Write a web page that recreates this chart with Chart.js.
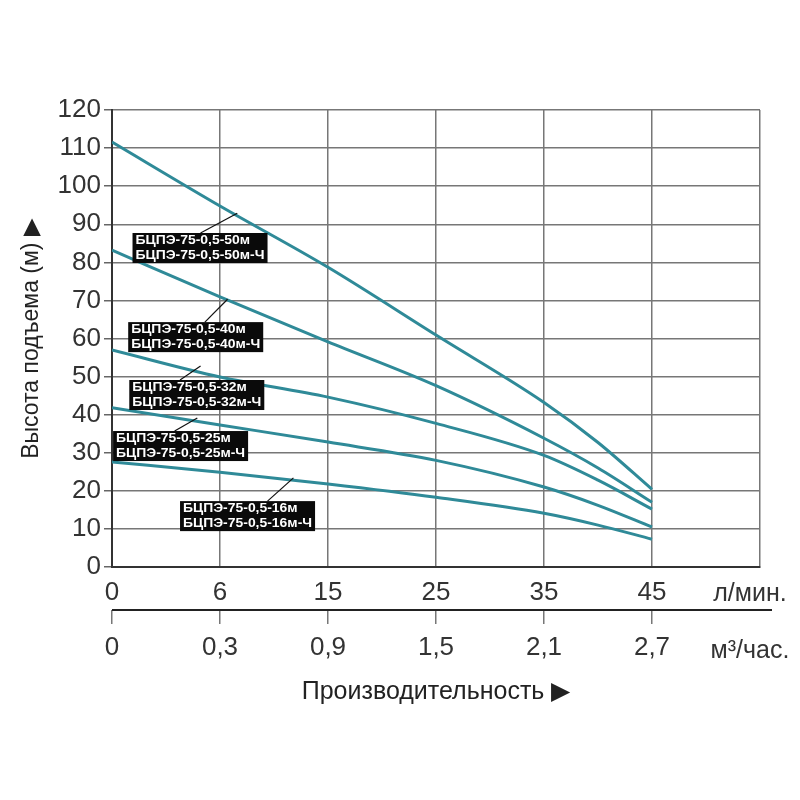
<!DOCTYPE html>
<html>
<head>
<meta charset="utf-8">
<script src="https://cdn.jsdelivr.net/npm/chart.js@4/dist/chart.umd.min.js"></script>
<style>
  html, body { margin: 0; padding: 0; background: #fff; }
  #wrap { width: 800px; height: 800px; }
</style>
</head>
<body>
<div id="wrap"><canvas id="pumpChart" width="800" height="800"></canvas></div>
<script>
// column positions on the x axis (0..6), labels per column
const flowLpm = ['0', '6', '15', '25', '35', '45', ''];
const flowM3h = ['0', '0,3', '0,9', '1,5', '2,1', '2,7', ''];
const pointX = [0, 1, 2, 3, 4, 4.5, 5];

// head (m) per model
const head50 = [111.6, 94.8, 78.7, 60.9, 43.2, 32.7, 20.4];
const head40 = [83.2, 70.9, 59.1, 47.6, 33.8, 26.0, 17.0];
const head32 = [57.0, 49.9, 44.6, 37.7, 29.3, 22.8, 15.2];
const head25 = [41.8, 37.3, 32.8, 28.0, 21.0, 16.2, 10.5];
const head16 = [27.6, 24.9, 21.8, 18.3, 14.1, 11.0, 7.3];

const modelNames = [
  ['БЦПЭ-75-0,5-50м', 'БЦПЭ-75-0,5-50м-Ч'],
  ['БЦПЭ-75-0,5-40м', 'БЦПЭ-75-0,5-40м-Ч'],
  ['БЦПЭ-75-0,5-32м', 'БЦПЭ-75-0,5-32м-Ч'],
  ['БЦПЭ-75-0,5-25м', 'БЦПЭ-75-0,5-25м-Ч'],
  ['БЦПЭ-75-0,5-16м', 'БЦПЭ-75-0,5-16м-Ч']
];

// where the black name boxes sit (in axis units) and where their leader lines touch the curve
const tagPlace = [
  { bx: 0.19, by: 87.7, lx: 0.82, tx: 1.16, ty: 92.9 },
  { bx: 0.15, by: 64.3, lx: 0.86, tx: 1.07, ty: 70.3 },
  { bx: 0.16, by: 49.1, lx: 0.63, tx: 0.82, ty: 52.8 },
  { bx: 0.01, by: 35.7, lx: 0.58, tx: 0.79, ty: 39.1 },
  { bx: 0.63, by: 17.3, lx: 1.44, tx: 1.68, ty: 23.4 }
];

const FONT = "'Liberation Sans', Arial, sans-serif";
const curveColor = '#2f8a98';

function toPoints(ys) {
  return ys.map((y, i) => ({ x: pointX[i], y: y }));
}

const heads = [head50, head40, head32, head25, head16];

const tagPlugin = {
  id: 'tags',
  afterDatasetsDraw(chart) {
    const ctx = chart.ctx;
    const xs = chart.scales.x, ys = chart.scales.y;
    ctx.save();
    tagPlace.forEach((p, i) => {
      const bx = xs.getPixelForValue(p.bx), by = ys.getPixelForValue(p.by);
      // leader line
      ctx.strokeStyle = '#111';
      ctx.lineWidth = 1.2;
      ctx.beginPath();
      ctx.moveTo(xs.getPixelForValue(p.lx), by);
      ctx.lineTo(xs.getPixelForValue(p.tx), ys.getPixelForValue(p.ty));
      ctx.stroke();
      // box with two lines of text
      ctx.font = 'bold 12px ' + FONT;
      const sx = 1.16;
      const w = ctx.measureText(modelNames[i][1]).width * sx + 6;
      ctx.fillStyle = '#0a0a0a';
      ctx.fillRect(bx, by, w, 30);
      ctx.fillStyle = '#fff';
      ctx.textBaseline = 'middle';
      modelNames[i].forEach((t, k) => {
        ctx.save();
        ctx.translate(bx + 3, by + 8 + k * 14.5);
        ctx.scale(sx, 1);
        ctx.fillText(t, 0, 0);
        ctx.restore();
      });
    });
    ctx.restore();
  },
  afterDraw(chart) {
    const ctx = chart.ctx;
    const xs = chart.scales.x, x2 = chart.scales.x2;
    ctx.save();
    // lower axis line runs a bit past the plot
    ctx.strokeStyle = '#222';
    ctx.lineWidth = 2;
    ctx.beginPath();
    ctx.moveTo(x2.left, x2.top);
    ctx.lineTo(x2.right + 12, x2.top);
    ctx.stroke();
    // unit labels
    ctx.fillStyle = '#333';
    ctx.textAlign = 'center';
    ctx.textBaseline = 'middle';
    ctx.font = '25px ' + FONT;
    const ux = xs.getPixelForValue(6) - 10;
    ctx.fillText('л/мин.', ux, xs.top + 27);
    ctx.fillText('м³/час.', ux, x2.top + 41);
    ctx.restore();
  }
};

new Chart(document.getElementById('pumpChart'), {
  type: 'line',
  data: {
    datasets: heads.map((h, i) => ({
      label: modelNames[i][0],
      data: toPoints(h),
      borderColor: curveColor,
      borderWidth: 3,
      pointRadius: 0,
      fill: false,
      cubicInterpolationMode: 'monotone'
    }))
  },
  options: {
    responsive: false,
    animation: false,
    layout: { padding: { left: 18, right: 40, top: 110, bottom: 93 } },
    plugins: {
      legend: { display: false },
      tooltip: { enabled: false }
    },
    scales: {
      x: {
        type: 'linear',
        position: 'bottom',
        min: 0,
        max: 6,
        afterFit: s => { s.height = 43; },
        ticks: {
          stepSize: 1,
          padding: 10,
          color: '#333',
          font: { size: 26, family: FONT },
          callback: v => flowLpm[v]
        },
        grid: { color: '#777', lineWidth: 1.5, drawTicks: false },
        border: { color: '#333', width: 2 }
      },
      x2: {
        type: 'linear',
        position: 'bottom',
        min: 0,
        max: 6,
        afterFit: s => { s.height = 97; },
        ticks: {
          stepSize: 1,
          padding: 8,
          color: '#333',
          font: { size: 26, family: FONT },
          callback: v => flowM3h[v]
        },
        grid: {
          drawOnChartArea: false,
          tickLength: 14,
          lineWidth: 1.5,
          tickColor: c => (c.tick && c.tick.value === 6 ? 'rgba(0,0,0,0)' : '#777')
        },
        border: { display: false },
        title: {
          display: true,
          text: 'Производительность ▶',
          color: '#222',
          font: { size: 25, family: FONT },
          padding: { top: 6, bottom: 0 }
        }
      },
      y: {
        min: 0,
        max: 120,
        afterFit: s => { s.width = 94; },
        ticks: {
          stepSize: 5,
          padding: 3,
          color: '#333',
          font: { size: 26, family: FONT },
          callback: v => (v % 10 === 0 ? v : '')
        },
        grid: {
          lineWidth: 1.5,
          tickLength: 8,
          color: c => (c.tick && c.tick.value % 10 === 0 ? '#777' : 'rgba(0,0,0,0)'),
          tickColor: '#666'
        },
        border: { color: '#333', width: 2 },
        title: {
          display: true,
          text: 'Высота подъема (м) ▶',
          color: '#222',
          font: { size: 23, family: FONT },
          padding: 0
        }
      }
    }
  },
  plugins: [tagPlugin]
});
</script>
</body>
</html>
